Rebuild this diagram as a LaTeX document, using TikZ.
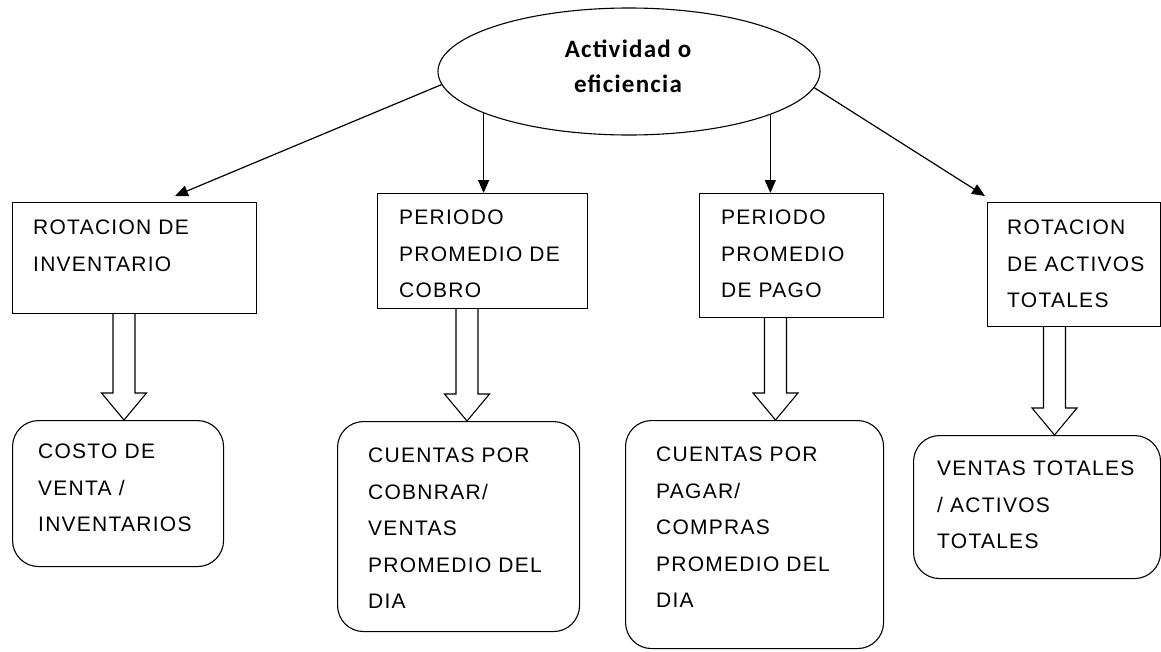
\documentclass[tikz,border=0pt]{standalone}
\usepackage{fontspec}
\newfontfamily\headf[LetterSpace=5]{Carlito}
\newfontfamily\bodyf[LetterSpace=6]{Liberation Sans}
\usetikzlibrary{arrows.meta,shapes.geometric,calc}
\newcommand\hollowarr[3]{%
  \draw[hollow] let \p1=(#1.south), \p2=(#2.north) in
   (#3pt-11pt,\y1) -- (#3pt-11pt,\y2+27pt) -- (#3pt-22.5pt,\y2+27pt) -- (#3pt,\y2)
   -- (#3pt+22.5pt,\y2+27pt) -- (#3pt+11pt,\y2+27pt) -- (#3pt+11pt,\y1);}
\begin{document}
\begin{tikzpicture}[x=1pt,y=-1pt,
  box/.style={draw, line width=1.1pt, rectangle, inner sep=0, anchor=north west},
  rbox/.style={box, rounded corners=26pt},
  lbl/.style={anchor=north west, inner sep=0, align=left, font=\bodyf\fontsize{21}{36.5}\selectfont},
  arr/.style={line width=1.2pt, -{Triangle[length=13pt,width=11pt]}},
  hollow/.style={draw, line width=1.1pt, line join=miter}]
\useasboundingbox (0,0) rectangle (1161,651);
\fill[white] (0,0) rectangle (1161,651);

% top ellipse
\node[draw, ellipse, line width=1.1pt, inner sep=0, minimum width=382pt, minimum height=127pt] (E) at (629,71.5) {};
\node[font=\headf\bfseries\fontsize{25}{35}\selectfont, align=center, inner sep=0] (Et) at (628,66) {Actividad o\\eficiencia};

% rectangles
\node[box, minimum width=244pt, minimum height=111pt] (B1) at (12,202) {};
\node[box, minimum width=210pt, minimum height=115pt] (B2) at (377,193) {};
\node[box, minimum width=184pt, minimum height=124pt] (B3) at (699,193) {};
\node[box, minimum width=173pt, minimum height=124pt] (B4) at (987,202) {};

% rounded boxes
\node[rbox, minimum width=211pt, minimum height=146pt] (R1) at (12,420) {};
\node[rbox, minimum width=242pt, minimum height=210pt] (R2) at (337,421) {};
\node[rbox, minimum width=258pt, minimum height=228pt] (R3) at (625,420) {};
\node[rbox, minimum width=247pt, minimum height=143pt] (R4) at (913,435) {};

% texts
\node[lbl] (T1) at (33,219.7) {ROTACION DE\\INVENTARIO};
\node[lbl] (T2) at (399,209.7) {PERIODO\\PROMEDIO DE\\COBRO};
\node[lbl] (T3) at (721,209.7) {PERIODO\\PROMEDIO\\DE PAGO};
\node[lbl] (T4) at (1007,219.7) {ROTACION\\DE ACTIVOS\\TOTALES};
\node[lbl] (Ta) at (38,443.7) {COSTO DE\\VENTA /\\INVENTARIOS};
\node[lbl] (Tb) at (368,447.7) {CUENTAS POR\\COBNRAR/\\VENTAS\\PROMEDIO DEL\\DIA};
\node[lbl] (Tc) at (656,446.7) {CUENTAS POR\\PAGAR/\\COMPRAS\\PROMEDIO DEL\\DIA};
\node[lbl] (Td) at (937,460.7) {VENTAS TOTALES\\/ ACTIVOS\\TOTALES};

% arrows from ellipse
\coordinate (a1) at (175,196);
\coordinate (a4) at (985,196);
\draw[arr] (E.184.4) -- (a1);
\draw[arr] (E.196.8) -- (E.196.8 |- B2.north);
\draw[arr] (E.343.6) -- (E.343.6 |- B3.north);
\draw[arr] (E.355.7) -- (a4);

% hollow arrows
\hollowarr{B1}{R1}{124}
\hollowarr{B2}{R2}{467}
\hollowarr{B3}{R3}{775.5}
\hollowarr{B4}{R4}{1054.5}
\end{tikzpicture}
\end{document}
